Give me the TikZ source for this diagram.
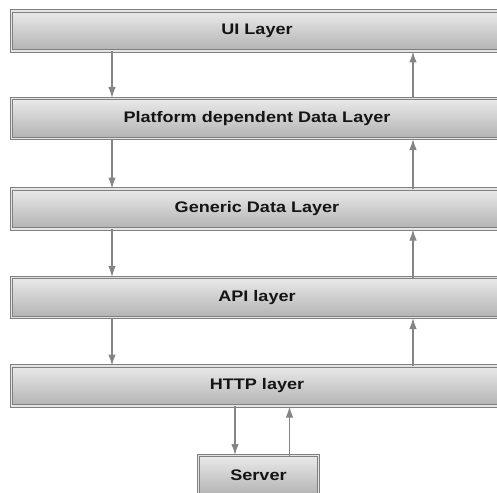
\documentclass[tikz,border=0pt]{standalone}
\usepackage{fontspec}
\setmainfont{Liberation Sans}
\usetikzlibrary{arrows.meta}
\definecolor{boxtop}{HTML}{EAEAEA}
\definecolor{boxbot}{HTML}{B2B2B2}
\definecolor{boxline}{HTML}{808080}
\definecolor{boxgap}{HTML}{E4E4E4}
\definecolor{arrowgray}{HTML}{858585}
\definecolor{labeltext}{HTML}{141414}
\newcommand{\layerlabel}[1]{\scalebox{1.18}[1]{\bfseries\fontsize{15.3}{18}\selectfont #1}}
\begin{document}
\begin{tikzpicture}[x=1pt,y=-1pt,
  layer/.style={rectangle, draw=boxline, line width=0.8pt,
    double=boxgap, double distance=1.6pt,
    top color=boxtop, bottom color=boxbot,
    minimum height=40pt, inner sep=0pt, outer sep=0pt,
    text=labeltext, font=\normalsize},
  wide/.style={layer, minimum width=491pt},
  flow/.style={draw=arrowgray, line width=1.2pt,
    -{Latex[length=11pt,width=7.5pt]}, shorten >=0.5pt}
]
\useasboundingbox (0,0) rectangle (497,492);
\fill[white] (0,0) rectangle (497,492);
\begin{scope}
\clip (0,0) rectangle (497,492);

% stacked layers
\node[wide] (ui)   at (257,31)    {\layerlabel{UI Layer}};
\node[wide] (plat) at (257,118.5) {\layerlabel{Platform dependent Data Layer}};
\node[wide] (gen)  at (257,209)   {\layerlabel{Generic Data Layer}};
\node[wide] (api)  at (257,297.5) {\layerlabel{API layer}};
\node[wide] (http) at (257,386)   {\layerlabel{HTTP layer}};
\node[layer, minimum width=120pt] (srv) at (258.5,475.5) {\layerlabel{Server}};

% columns for the request and response arrows
\coordinate (dn) at (112,0);
\coordinate (up) at (413,0);
\coordinate (sdn) at (235,0);
\coordinate (sup) at (289.5,0);

% requests go down
\draw[flow] (ui.south -| dn)   -- (plat.north -| dn);
\draw[flow] (plat.south -| dn) -- (gen.north -| dn);
\draw[flow] (gen.south -| dn)  -- (api.north -| dn);
\draw[flow] (api.south -| dn)  -- (http.north -| dn);
\draw[flow] (http.south -| sdn) -- (srv.north -| sdn);

% responses go up
\draw[flow] (plat.north -| up) -- (ui.south -| up);
\draw[flow] (gen.north -| up)  -- (plat.south -| up);
\draw[flow] (api.north -| up)  -- (gen.south -| up);
\draw[flow] (http.north -| up) -- (api.south -| up);
\draw[flow] (srv.north -| sup) -- (http.south -| sup);
\end{scope}
\end{tikzpicture}
\end{document}
